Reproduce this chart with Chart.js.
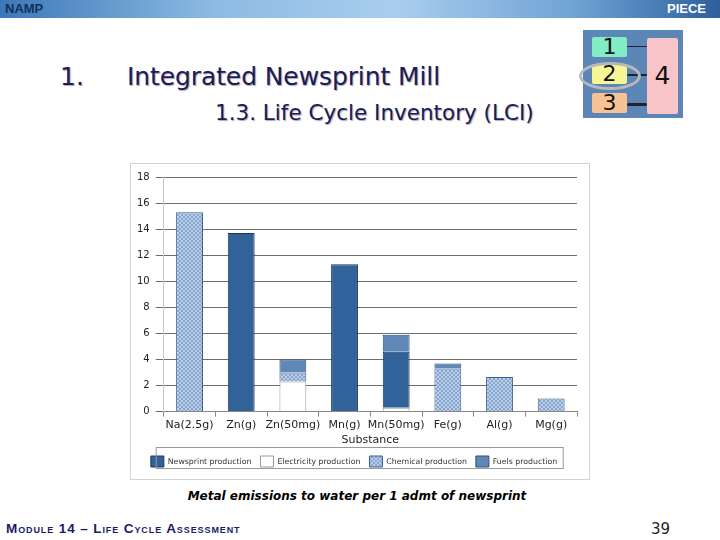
<!DOCTYPE html>
<html>
<head>
<meta charset="utf-8">
<script src="https://cdn.jsdelivr.net/npm/chart.js@4.4.1/dist/chart.umd.min.js"></script>
<style>
  body { margin: 0; width: 720px; height: 540px; background: #fff; position: relative; overflow: hidden; font-family: "DejaVu Sans", Verdana, sans-serif; }
  .hdr { position: absolute; left: 0; top: 0; width: 720px; height: 18px;
    background: linear-gradient(to right, #3c78b8 0%, #8dbbe3 30%, #a9cdee 55%, #6fa2d4 80%, #2d5f9c 100%); }
  .hdr span { position: absolute; top: 1px; font: bold 13px "Liberation Sans", Arial, sans-serif; }
  .num { position: absolute; left: 60px; top: 62px; font-size: 25px; color: #1b1b5c; text-shadow: 1px 1px 1px #aaa; }
  .t1 { position: absolute; left: 127px; top: 62px; font-size: 25px; color: #1b1b5c; text-shadow: 1px 1px 1px #aaa; letter-spacing: -0.1px; }
  .t2 { position: absolute; left: 215px; top: 100px; font-size: 21.5px; color: #1b1b5c; text-shadow: 1px 1px 1px #aaa; }
  .logo { position: absolute; left: 583px; top: 30px; width: 100px; height: 88px; background: #5c86b6; }
  .logo div { position: absolute; text-align: center; font-size: 22px; color: #111; border-radius: 2px; }
  .wrap { position: absolute; left: 130px; top: 163px; width: 460px; height: 317px; border: 1px solid #d4d4d4; box-sizing: border-box; }
  .cap { position: absolute; left: 0; width: 714px; top: 489px; text-align: center; font: italic bold 12px "DejaVu Sans", sans-serif; color: #000; }
  .foot { position: absolute; left: 6px; top: 521px; font: bold 13.5px "Liberation Sans", Arial, sans-serif; font-variant: small-caps; color: #1b1b6b; letter-spacing: 0.9px; }
  .pg { position: absolute; left: 651px; top: 520px; font: 15px "DejaVu Sans", sans-serif; color: #222; }
</style>
</head>
<body>
<div class="hdr"><span style="left:5px;color:#10305c">NAMP</span><span style="right:14px;color:#fff">PIECE</span></div>
<div class="num">1.</div>
<div class="t1">Integrated Newsprint Mill</div>
<div class="t2">1.3. Life Cycle Inventory (LCI)</div>
<div class="logo">
  <div style="left:9px;top:7px;width:35px;height:20px;line-height:20px;background:#82ecc4">1</div>
  <div style="left:9px;top:34px;width:35px;height:20px;line-height:20px;background:#f6f696">2</div>
  <div style="left:9px;top:63px;width:35px;height:20px;line-height:20px;background:#f8c294">3</div>
  <div style="left:64px;top:8px;width:31px;height:76px;line-height:76px;background:#f8c4c8;font-size:25px">4</div>
  <div style="left:44px;top:16px;width:20px;height:1px;background:#223"></div>
  <div style="left:44px;top:44px;width:20px;height:2px;background:#223"></div>
  <div style="left:44px;top:73px;width:20px;height:3px;background:#223"></div>
  <div style="left:-4px;top:32px;width:56px;height:22px;border:3px solid #b9b9b9;border-radius:50%;background:transparent"></div>
</div>
<div class="wrap"><canvas id="chart"></canvas></div>
<div class="cap">Metal emissions to water per 1 admt of newsprint</div>
<div class="foot">Module 14 – Life Cycle Assessment</div>
<div class="pg">39</div>
<script>
// Data
const substances = ["Na(2.5g)", "Zn(g)", "Zn(50mg)", "Mn(g)", "Mn(50mg)", "Fe(g)", "Al(g)", "Mg(g)"];
const newsprint   = [0, 13.7, 0, 11.3, 4.3, 0, 0, 0];
const electricity = [0, 0, 2.3, 0, 0.3, 0, 0, 0];
const chemical    = [15.3, 0, 0.7, 0, 0, 3.3, 2.65, 1.0];
const fuels       = [0, 0, 1.0, 0, 1.3, 0.4, 0, 0];
const yTicks = [0, 2, 4, 6, 8, 10, 12, 14, 16, 18];

// checkered fill for chemical production
function makePattern() {
  const c = document.createElement("canvas");
  c.width = 4; c.height = 4;
  const g = c.getContext("2d");
  g.fillStyle = "#b9cfe8"; g.fillRect(0, 0, 4, 4);
  g.fillStyle = "#86a6cf";
  g.fillRect(0, 0, 2, 2); g.fillRect(2, 2, 2, 2);
  return g.createPattern(c, "repeat");
}
const chemPattern = makePattern();

// box round the legend
const legendBox = {
  id: "legendBox",
  afterDraw(chart) {
    const ctx = chart.ctx;
    const a = chart.chartArea;
    const lg = chart.legend;
    ctx.save();
    ctx.strokeStyle = "#999";
    ctx.lineWidth = 1;
    ctx.strokeRect(a.left - 7.5, lg.top + 0.5, 407, 21);
    ctx.restore();
  }
};

const ctx = document.getElementById("chart").getContext("2d");
new Chart(ctx, {
  type: "bar",
  data: {
    labels: substances,
    datasets: [
      { label: "Electricity production", data: electricity, backgroundColor: "#ffffff", borderColor: "#9a9a9a", borderWidth: 1 },
      { label: "Newsprint production", data: newsprint, backgroundColor: "#31639a", borderColor: "#1c3858", borderWidth: 1 },
      { label: "Chemical production", data: chemical, backgroundColor: chemPattern, borderColor: "#3d5f8a", borderWidth: 1 },
      { label: "Fuels production", data: fuels, backgroundColor: "#5f88b6", borderColor: "#2d4f7a", borderWidth: 1 },
    ],
  },
  options: {
    responsive: true,
    maintainAspectRatio: false,
    animation: false,
    layout: { padding: { left: 0, right: 12, top: 13, bottom: 2 } },
    datasets: { bar: { categoryPercentage: 1, barPercentage: 0.52 } },
    plugins: {
      legend: {
        position: "bottom",
        labels: {
          font: { size: 7.8, family: "DejaVu Sans" },
          color: "#333",
          boxWidth: 13,
          boxHeight: 11,
          padding: 9,
          sort: (a, b) => [1, 0, 2, 3][a.datasetIndex] - [1, 0, 2, 3][b.datasetIndex],
        },
      },
      tooltip: { enabled: false },
    },
    scales: {
      x: {
        stacked: true,
        grid: { drawOnChartArea: false, drawTicks: true, tickLength: 5, color: "#888" },
        border: { color: "#888" },
        ticks: { font: { size: 11, family: "DejaVu Sans" }, color: "#222", maxRotation: 0, autoSkip: false, padding: 2 },
        title: { display: true, text: "Substance", font: { size: 11, family: "DejaVu Sans" }, color: "#222", padding: 0 },
      },
      y: {
        stacked: true,
        min: 0,
        max: 18,
        afterBuildTicks: (s) => { s.ticks = yTicks.map((v) => ({ value: v })); },
        grid: { color: "#6e6e6e", tickLength: 8 },
        border: { color: "#c8c8c8" },
        ticks: { font: { size: 10, family: "DejaVu Sans" }, color: "#222", padding: 6 },
      },
    },
  },
  plugins: [legendBox],
});
</script>
</body>
</html>
